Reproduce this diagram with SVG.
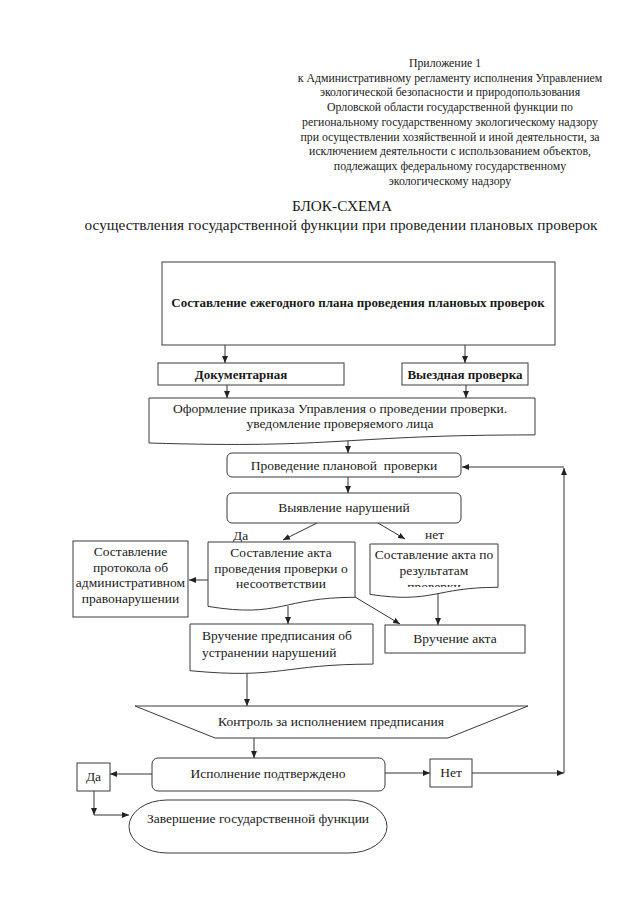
<svg xmlns="http://www.w3.org/2000/svg" width="640" height="905" viewBox="0 0 640 905" font-family="'Liberation Serif', 'Times New Roman', serif">
<style>
  text { font-family: "Liberation Serif", "Times New Roman", serif; fill: #1a1a1a; }
  .hdr { font-size: 11.8px; text-anchor: middle; }
  .ttl { font-size: 15.3px; text-anchor: middle; }
  .b { font-size: 13px; font-weight: bold; text-anchor: middle; }
  .t { font-size: 13.5px; text-anchor: middle; }
  .ts { font-size: 13.5px; }
  .box { fill: #fff; stroke: #3a3a3a; stroke-width: 1; }
  .ln { fill: none; stroke: #333; stroke-width: 1; marker-end: url(#ah); }
</style>
<defs>
  <marker id="ah" markerUnits="userSpaceOnUse" markerWidth="7" markerHeight="6" refX="7" refY="3" orient="auto">
    <path d="M0,0 L7,3 L0,6 Z" fill="#222"/>
  </marker>
  <clipPath id="clipB">
    <rect x="370" y="544" width="128" height="43"/>
  </clipPath>
</defs>
<rect width="640" height="905" fill="#fff"/>

<g id="header">
  <text class="hdr" x="445" y="67">Приложение 1</text>
  <text class="hdr" x="450" y="81.7">к Административному регламенту исполнения Управлением</text>
  <text class="hdr" x="450" y="96.4">экологической безопасности и природопользования</text>
  <text class="hdr" x="450" y="111.1">Орловской области государственной функции по</text>
  <text class="hdr" x="450" y="125.8">региональному государственному экологическому надзору</text>
  <text class="hdr" x="450" y="140.5">при осуществлении хозяйственной и иной деятельности, за</text>
  <text class="hdr" x="450" y="155.2">исключением деятельности с использованием объектов,</text>
  <text class="hdr" x="450" y="169.9">подлежащих федеральному государственному</text>
  <text class="hdr" x="450" y="184.6">экологическому надзору</text>
  <text class="ttl" x="342" y="211">БЛОК-СХЕМА</text>
  <text class="ttl" x="341" y="230">осуществления государственной функции при проведении плановых проверок</text>
</g>

<g id="connectors">
  <line class="ln" x1="225" y1="345" x2="225" y2="363"/>
  <line class="ln" x1="465" y1="345" x2="465" y2="363"/>
  <line class="ln" x1="227" y1="385" x2="227" y2="398"/>
  <line class="ln" x1="466" y1="385" x2="466" y2="398"/>
  <line class="ln" x1="348" y1="441" x2="348" y2="453"/>
  <line class="ln" x1="348" y1="477" x2="348" y2="493"/>
  <line class="ln" x1="317" y1="523" x2="283" y2="540"/>
  <line class="ln" x1="378" y1="523" x2="405" y2="539"/>
  <line class="ln" x1="208" y1="580" x2="189" y2="580"/>
  <line class="ln" x1="288" y1="606" x2="288" y2="624"/>
  <line class="ln" x1="355" y1="597" x2="400" y2="624"/>
  <line class="ln" x1="438" y1="594" x2="438" y2="625"/>
  <line class="ln" x1="247" y1="673" x2="247" y2="706"/>
  <line class="ln" x1="254" y1="738" x2="254" y2="758"/>
  <line class="ln" x1="152" y1="774" x2="110" y2="774"/>
  <line class="ln" x1="385" y1="773" x2="430" y2="773"/>
  <line class="ln" x1="472" y1="773" x2="564" y2="773"/>
  <line class="ln" x1="564" y1="773" x2="564" y2="468"/>
  <line class="ln" x1="564" y1="467" x2="462" y2="467"/>
  <line class="ln" x1="94" y1="791" x2="94" y2="815"/>
  <line class="ln" x1="94" y1="815" x2="129" y2="815"/>
</g>

<g id="plan">
  <rect class="box" x="162" y="262" width="393" height="83"/>
  <text class="b" x="358" y="307">Составление ежегодного плана проведения плановых проверок</text>
</g>

<g id="doc-check">
  <rect class="box" x="158" y="363" width="186" height="22"/>
  <text class="b" x="241" y="379">Документарная</text>
</g>

<g id="field-check">
  <rect class="box" x="402" y="363" width="126" height="22"/>
  <text class="b" x="465" y="379">Выездная проверка</text>
</g>

<g id="order">
  <path class="box" d="M149,398 H535 V434.9 C342,434.9 342,448.9 149,443 Z"/>
  <text class="t" x="340" y="413">Оформление приказа Управления о проведении проверки.</text>
  <text class="t" x="340" y="428">уведомление проверяемого лица</text>
</g>

<g id="inspection">
  <rect class="box" x="227" y="453" width="234" height="24" rx="5"/>
  <text class="t" x="344" y="470" xml:space="preserve">Проведение плановой  проверки</text>
</g>

<g id="violations">
  <rect class="box" x="227" y="493" width="234" height="30" rx="5"/>
  <text class="t" x="344" y="512">Выявление нарушений</text>
</g>

<g id="labels">
  <text class="ts" x="233" y="540">Да</text>
  <text class="ts" x="425" y="539">нет</text>
</g>

<g id="act-violation">
  <path class="box" d="M208,542 H355 V597.3 C281.5,597.3 281.5,618.4 208,606.4 Z"/>
  <text class="t" x="281" y="557">Составление акта</text>
  <text class="t" x="281" y="572.5">проведения проверки о</text>
  <text class="t" x="281" y="588">несоответствии</text>
</g>

<g id="protocol">
  <rect class="box" x="73" y="541" width="115" height="76"/>
  <text class="t" x="130.5" y="556">Составление</text>
  <text class="t" x="130.5" y="571.5">протокола об</text>
  <text class="t" x="130.5" y="587">административном</text>
  <text class="t" x="130.5" y="602.5">правонарушении</text>
</g>

<g id="act-results">
  <path class="box" d="M370,544 H498 V587.3 C434,587.3 434,603.8 370,594.4 Z"/>
  <text class="t" x="434" y="559">Составление акта по</text>
  <text class="t" x="434" y="574.5">результатам</text>
  <text class="t" x="434" y="591" clip-path="url(#clipB)">проверки</text>
</g>

<g id="prescription">
  <path class="box" d="M190,624 H373 V664.1 C281.5,664.1 281.5,679.4 190,670.7 Z"/>
  <text class="ts" x="202" y="640">Вручение предписания об</text>
  <text class="ts" x="202" y="657">устранении нарушений</text>
</g>

<g id="act-delivery">
  <rect class="box" x="385" y="625" width="140" height="28"/>
  <text class="t" x="455" y="643">Вручение акта</text>
</g>

<g id="control">
  <polygon class="box" points="135,706 528,706 448,738 215,738"/>
  <text class="t" x="331" y="726">Контроль за исполнением предписания</text>
</g>

<g id="confirmed">
  <rect class="box" x="152" y="758" width="233" height="33" rx="6"/>
  <text class="t" x="268" y="778">Исполнение подтверждено</text>
</g>

<g id="yes">
  <rect class="box" x="77" y="763" width="33" height="28"/>
  <text class="t" x="93.5" y="781">Да</text>
</g>

<g id="no">
  <rect class="box" x="430" y="759" width="42" height="28"/>
  <text class="t" x="451" y="777">Нет</text>
</g>

<g id="end">
  <rect class="box" x="129" y="800" width="258" height="53" rx="38" ry="26.5"/>
  <text class="t" x="258" y="823">Завершение государственной функции</text>
</g>
</svg>
